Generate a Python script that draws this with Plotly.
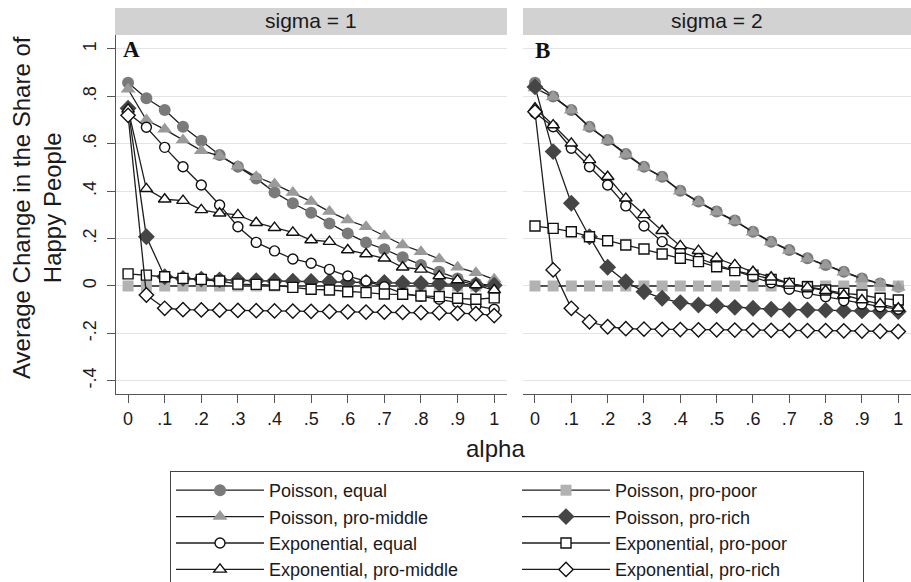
import plotly.graph_objects as go

# ---------------- data ----------------
alpha = [0.00, 0.05, 0.10, 0.15, 0.20, 0.25, 0.30, 0.35, 0.40, 0.45, 0.50,
         0.55, 0.60, 0.65, 0.70, 0.75, 0.80, 0.85, 0.90, 0.95, 1.00]
x_ticks = [0, 0.1, 0.2, 0.3, 0.4, 0.5, 0.6, 0.7, 0.8, 0.9, 1]
x_tick_labels = ["0", ".1", ".2", ".3", ".4", ".5", ".6", ".7", ".8", ".9", "1"]
y_ticks = [-0.4, -0.2, 0, 0.2, 0.4, 0.6, 0.8, 1]
y_tick_labels = ["-.4", "-.2", "0", ".2", ".4", ".6", ".8", "1"]
panel_titles = ["sigma = 1", "sigma = 2"]
panel_letters = ["A", "B"]

# sigma = 1 (panel A)
poisson_equal_A = [0.858, 0.792, 0.743, 0.672, 0.613, 0.553, 0.503, 0.454, 0.395, 0.349, 0.309,
                   0.264, 0.222, 0.183, 0.155, 0.121, 0.089, 0.060, 0.032, 0.011, 0.000]
poisson_propoor_A = [0.0, 0.0, 0.0, 0.0, 0.0, 0.0, 0.0, 0.0, 0.0, 0.0, 0.0,
                     0.0, 0.0, 0.0, 0.0, 0.0, 0.0, 0.0, 0.0, 0.0, 0.0]
poisson_promiddle_A = [0.830, 0.700, 0.661, 0.616, 0.571, 0.549, 0.505, 0.461, 0.430, 0.394, 0.356,
                       0.314, 0.278, 0.250, 0.211, 0.173, 0.145, 0.114, 0.079, 0.056, 0.028]
poisson_prorich_A = [0.750, 0.208, 0.039, 0.032, 0.029, 0.026, 0.024, 0.022, 0.021, 0.020, 0.019,
                     0.018, 0.017, 0.016, 0.015, 0.013, 0.011, 0.009, 0.007, 0.005, 0.003]
expo_equal_A = [0.729, 0.670, 0.585, 0.503, 0.426, 0.342, 0.250, 0.184, 0.148, 0.114, 0.096,
                0.070, 0.042, 0.021, -0.003, -0.031, -0.042, -0.056, -0.070, -0.084, -0.098]
expo_propoor_A = [0.051, 0.046, 0.039, 0.032, 0.028, 0.021, 0.008, 0.007, 0.004, -0.006, -0.014,
                  -0.017, -0.024, -0.028, -0.034, -0.035, -0.042, -0.045, -0.052, -0.056, -0.050]
expo_promiddle_A = [0.745, 0.410, 0.366, 0.360, 0.321, 0.307, 0.300, 0.267, 0.246, 0.226, 0.194,
                    0.187, 0.152, 0.135, 0.117, 0.079, 0.070, 0.042, 0.025, 0.004, -0.017]
expo_prorich_A = [0.720, -0.038, -0.094, -0.100, -0.101, -0.102, -0.103, -0.104, -0.105, -0.106, -0.107,
                  -0.108, -0.109, -0.110, -0.110, -0.111, -0.112, -0.113, -0.115, -0.117, -0.125]

# sigma = 2 (panel B)
poisson_equal_B = [0.858, 0.800, 0.743, 0.672, 0.616, 0.557, 0.503, 0.461, 0.402, 0.356, 0.314,
                   0.276, 0.229, 0.187, 0.152, 0.117, 0.089, 0.060, 0.032, 0.011, -0.003]
poisson_propoor_B = [0.0, 0.0, 0.0, 0.0, 0.0, 0.0, 0.0, 0.0, 0.0, 0.0, 0.0,
                     0.0, 0.0, 0.0, 0.0, 0.0, 0.0, 0.0, 0.0, 0.0, 0.0]
poisson_promiddle_B = [0.835, 0.797, 0.741, 0.670, 0.614, 0.555, 0.501, 0.459, 0.400, 0.354, 0.312,
                       0.274, 0.227, 0.185, 0.150, 0.115, 0.087, 0.058, 0.030, 0.009, -0.005]
poisson_prorich_B = [0.840, 0.567, 0.349, 0.208, 0.079, 0.018, -0.024, -0.052, -0.070, -0.080, -0.083,
                     -0.090, -0.094, -0.098, -0.100, -0.101, -0.102, -0.104, -0.105, -0.107, -0.108]
expo_equal_B = [0.731, 0.672, 0.581, 0.503, 0.426, 0.338, 0.253, 0.187, 0.145, 0.117, 0.089,
                0.065, 0.039, 0.014, -0.014, -0.031, -0.045, -0.062, -0.076, -0.087, -0.098]
expo_propoor_B = [0.253, 0.243, 0.229, 0.208, 0.191, 0.173, 0.156, 0.135, 0.117, 0.103, 0.081,
                  0.065, 0.046, 0.028, 0.011, -0.003, -0.017, -0.031, -0.038, -0.052, -0.059]
expo_promiddle_B = [0.750, 0.679, 0.602, 0.532, 0.461, 0.370, 0.300, 0.233, 0.169, 0.149, 0.117,
                    0.089, 0.060, 0.037, 0.011, -0.006, -0.020, -0.038, -0.059, -0.076, -0.094]
expo_prorich_B = [0.735, 0.068, -0.094, -0.151, -0.172, -0.180, -0.182, -0.183, -0.184, -0.185, -0.185,
                  -0.186, -0.186, -0.187, -0.187, -0.188, -0.188, -0.189, -0.190, -0.191, -0.192]

# legend order (row-wise, two columns)
series_names = ["Poisson, equal", "Poisson, pro-poor", "Poisson, pro-middle", "Poisson, pro-rich",
                "Exponential, equal", "Exponential, pro-poor", "Exponential, pro-middle",
                "Exponential, pro-rich"]
series_A = [poisson_equal_A, poisson_propoor_A, poisson_promiddle_A, poisson_prorich_A,
            expo_equal_A, expo_propoor_A, expo_promiddle_A, expo_prorich_A]
series_B = [poisson_equal_B, poisson_propoor_B, poisson_promiddle_B, poisson_prorich_B,
            expo_equal_B, expo_propoor_B, expo_promiddle_B, expo_prorich_B]

# ---------------- styles ----------------
styles = [
    dict(symbol="circle", size=12, color="#7a7a7a", lc="#7a7a7a", lw=0),
    dict(symbol="square", size=11, color="#b2b2b2", lc="#b2b2b2", lw=0),
    dict(symbol="triangle-up", size=13, color="#9a9a9a", lc="#9a9a9a", lw=0),
    dict(symbol="diamond", size=13, color="#454545", lc="#454545", lw=0),
    dict(symbol="circle", size=10, color="white", lc="#111111", lw=1.4),
    dict(symbol="square", size=10, color="white", lc="#111111", lw=1.4),
    dict(symbol="triangle-up", size=11, color="white", lc="#111111", lw=1.4),
    dict(symbol="diamond", size=11, color="white", lc="#111111", lw=1.4),
]
LINE_COLOR = "#1e1e1e"
FONT = "Liberation Sans, Arial, sans-serif"
TXT = "#1a1a1a"
AX = "#555555"

fig = go.Figure()
for panel, (series, xa, ya) in enumerate([(series_A, "x", "y"), (series_B, "x2", "y2")]):
    for i in range(len(series_names)):
        st = styles[i]
        fig.add_trace(go.Scatter(
            x=alpha, y=series[i], xaxis=xa, yaxis=ya,
            mode="lines+markers", name=series_names[i],
            legendgroup=series_names[i], showlegend=(panel == 0),
            line=dict(color=LINE_COLOR, width=1.3),
            marker=dict(symbol=st["symbol"], size=st["size"], color=st["color"],
                        line=dict(color=st["lc"], width=st["lw"])),
        ))

W, H = 911, 582
def px(v):
    return v / W
def py(v):
    return 1 - v / H

xr = [-0.033, 1.035]
yr = [-0.4557, 1.059]
common_x = dict(range=xr, tickmode="array", tickvals=x_ticks, ticktext=x_tick_labels,
                showline=True, linecolor=AX, linewidth=1.3, ticks="outside", ticklen=8,
                tickcolor=AX, tickwidth=1.3, showgrid=False, zeroline=False, automargin=False,
                tickfont=dict(family=FONT, size=18, color=TXT))
xa1 = dict(common_x); xa1.update(domain=[px(116), px(507)], anchor="y")
xa2 = dict(common_x); xa2.update(domain=[px(523), 1.0], anchor="y2")

common_y = dict(range=yr, tickmode="array", tickvals=y_ticks, showgrid=True,
                gridcolor="#e4e4e4", gridwidth=1, zeroline=False, automargin=False,
                domain=[py(394), py(35)])
ya1 = dict(common_y); ya1.update(ticktext=y_tick_labels, showline=True, linecolor=AX,
                                  linewidth=1.3, ticks="outside", ticklen=8, tickcolor=AX,
                                  tickwidth=1.3, tickangle=-90, anchor="x", ticklabelstandoff=4,
                                  tickfont=dict(family=FONT, size=18, color=TXT))
ya2 = dict(common_y); ya2.update(showticklabels=False, showline=False, ticks="", anchor="x2")

shapes = [
    dict(type="rect", xref="paper", yref="paper", x0=px(115), x1=px(507), y0=py(35), y1=py(8),
         fillcolor="#d2d2d2", line=dict(width=0), layer="below"),
    dict(type="rect", xref="paper", yref="paper", x0=px(523), x1=1.0, y0=py(35), y1=py(8),
         fillcolor="#d2d2d2", line=dict(width=0), layer="below"),
]

def ann(text, x, y, size, family=FONT, angle=0, color=TXT):
    return dict(text=text, x=px(x), y=py(y), xref="paper", yref="paper", showarrow=False,
                xanchor="center", yanchor="middle", textangle=angle,
                font=dict(family=family, size=size, color=color))

SERIF = "Liberation Serif, Times New Roman, serif"
annotations = [
    ann(panel_titles[0], 311, 21, 21),
    ann(panel_titles[1], 717, 21, 21),
    ann("<b>%s</b>" % panel_letters[0], 131, 49, 23, SERIF, color="#111"),
    ann("<b>%s</b>" % panel_letters[1], 542, 50, 23, SERIF, color="#111"),
    ann("Average Change in the Share of<br>Happy People", 37, 208, 24, angle=-90),
    ann("alpha", 496, 448, 24),
]

fig.update_layout(
    width=W, height=H, margin=dict(l=0, r=0, t=0, b=0, autoexpand=False),
    paper_bgcolor="white", plot_bgcolor="white",
    xaxis=xa1, xaxis2=xa2, yaxis=ya1, yaxis2=ya2,
    shapes=shapes, annotations=annotations,
    showlegend=True,
    legend=dict(orientation="h", x=px(170), xanchor="left", y=py(471), yanchor="top",
                entrywidth=243, entrywidthmode="pixels", itemwidth=88,
                font=dict(family=FONT, size=18, color=TXT),
                bordercolor="#444444", borderwidth=1, bgcolor="white",
                traceorder="normal", itemclick=False),
)

fig.write_html("out.html")
